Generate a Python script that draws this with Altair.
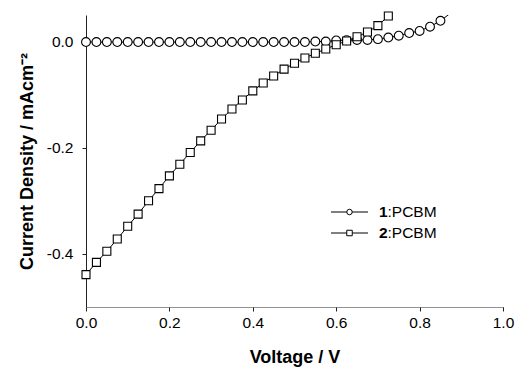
import altair as alt
import pandas as pd

# Series 1: 1:PCBM (circles), step 0.025 V
v1 = [round(i * 0.025, 3) for i in range(36)]  # 0.0 .. 0.875
j1 = [-0.001, -0.001, -0.001, -0.001, -0.001, -0.001, -0.001, -0.001,
      -0.001, -0.001, -0.001, -0.001, -0.001, -0.001, -0.001, -0.001,
      -0.001, -0.001, -0.001, -0.001, -0.001, -0.001, 0.0, 0.0,
      0.002, 0.0025, 0.003, 0.003, 0.0045, 0.0075, 0.011, 0.016,
      0.020, 0.028, 0.039, 0.054]
# Series 2: 2:PCBM (squares)
v2 = [round(i * 0.025, 3) for i in range(30)]  # 0.0 .. 0.725
j2 = [-0.439, -0.416, -0.395, -0.372, -0.348, -0.325, -0.300, -0.277,
      -0.253, -0.231, -0.209, -0.187, -0.167, -0.146, -0.127, -0.110,
      -0.093, -0.078, -0.065, -0.052, -0.041, -0.031, -0.022, -0.014,
      -0.006, 0.001, 0.009, 0.018, 0.030, 0.048]

x_ticks = [0.0, 0.2, 0.4, 0.6, 0.8, 1.0]
y_ticks = [-0.4, -0.2, 0.0]

df1 = pd.DataFrame({"V": v1, "J": j1})
df2 = pd.DataFrame({"V": v2, "J": j2})

FONT = "Liberation Sans"

x_enc = alt.X("V:Q", scale=alt.Scale(domain=[0, 1], nice=False),
              axis=alt.Axis(values=x_ticks, title="Voltage / V",
                            labelExpr="format(datum.value, '.1f')",
                            labelFlush=False,
                            domainDash=[1, 1], domainColor="#222",
                            tickColor="#222", tickSize=4, labelPadding=4,
                            titlePadding=18, grid=False))
y_enc = alt.Y("J:Q", scale=alt.Scale(domain=[-0.5, 0.05], nice=False, zero=False),
              axis=alt.Axis(values=y_ticks, title="Current Density / mAcm⁻²",
                            labelExpr="replace(format(datum.value, '.1f'), '\u2212', '-')",
                            labelFlush=False,
                            domainColor="#222", tickColor="#222", tickSize=4,
                            labelPadding=9, titlePadding=10, grid=False))

line1 = alt.Chart(df1).mark_line(color="black", strokeWidth=1, clip=True).encode(x=x_enc, y=y_enc)
pts1 = alt.Chart(df1).transform_filter("datum.V <= 0.851").mark_point(
    shape="circle", filled=True, fill="white", stroke="black", strokeWidth=1.1,
    size=78, opacity=1).encode(x="V:Q", y="J:Q")
line2 = alt.Chart(df2).mark_line(color="black", strokeWidth=1, clip=True).encode(x="V:Q", y="J:Q")
pts2 = alt.Chart(df2).mark_point(
    shape="square", filled=True, fill="white", stroke="black", strokeWidth=1.1,
    size=64, opacity=1).encode(x="V:Q", y="J:Q")

# Custom legend
leg_ids = ["1", "2"]
leg_rest = [":PCBM", ":PCBM"]
leg_df = pd.DataFrame({"id": leg_ids, "rest": leg_rest})

def leg_row(i, shape):
    d = leg_df.iloc[[i]]
    yy = 212 + i * 21 - 15
    base = alt.Chart(d)
    seg = base.mark_rule(color="black", strokeWidth=1).encode(
        x=alt.value(331 - 86), x2=alt.value(368 - 86), y=alt.value(yy))
    mk = base.mark_point(shape=shape, filled=True, fill="white", stroke="black",
                         strokeWidth=1, size=30, opacity=1).encode(
        x=alt.value(349.5 - 86), y=alt.value(yy))
    t1 = base.mark_text(align="left", baseline="middle", font=FONT, fontSize=15.5,
                        fontWeight="bold", color="black").encode(
        x=alt.value(379 - 86), y=alt.value(yy), text="id:N")
    t2 = base.mark_text(align="left", baseline="middle", font=FONT, fontSize=15.5,
                        color="black").encode(
        x=alt.value(387.5 - 86), y=alt.value(yy), text="rest:N")
    return [seg, mk, t1, t2]

layers = [line1, line2, pts1, pts2] + leg_row(0, "circle") + leg_row(1, "square")

chart = alt.layer(*layers).properties(
    width=417, height=292,
    autosize=alt.AutoSizeParams(type="none"),
    padding={"left": 86, "top": 15, "right": 13, "bottom": 60},
    background="white",
).configure_view(stroke=None).configure_axis(
    labelFont=FONT, titleFont=FONT, labelFontSize=15.5, titleFontSize=18,
    titleFontWeight="bold", labelColor="black", titleColor="black",
)

chart.save("out.html", embed_options={"renderer": "svg", "actions": False})
